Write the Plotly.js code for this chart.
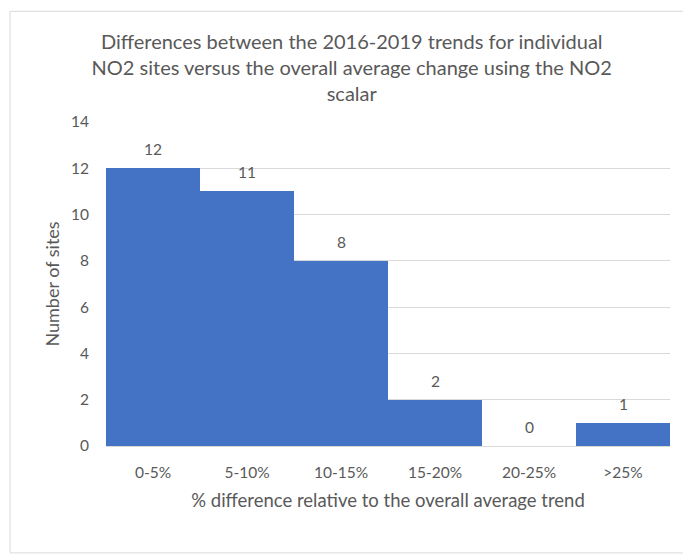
<!DOCTYPE html>
<html>
<head>
<meta charset="utf-8">
<script src="https://cdn.plot.ly/plotly-3.0.1.min.js"></script>
<style>html,body{margin:0;padding:0;background:#fff;}#chart{width:683px;height:557px;}</style>
</head>
<body>
<div id="chart"></div>
<script>
const categories = ["0-5%", "5-10%", "10-15%", "15-20%", "20-25%", ">25%"];
const siteCounts = [12, 11, 8, 2, 0, 1];
const yTickValues = [0, 2, 4, 6, 8, 10, 12, 14];

const textColor = "#595959";
const fontFamily = "Lato, 'Open Sans', sans-serif";

const trace = {
  type: "bar",
  x: categories,
  y: siteCounts,
  marker: {color: "#4472C4", line: {width: 0}},
  hoverinfo: "x+y"
};

const labelAnnotations = categories.map((c, i) => ({
  x: c, y: siteCounts[i], xref: "x", yref: "y",
  text: String(siteCounts[i]), showarrow: false,
  yanchor: "bottom", yshift: 8,
  font: {family: fontFamily, size: 15.5, color: textColor}
}));

const layout = {
  width: 683, height: 557,
  paper_bgcolor: "#ffffff", plot_bgcolor: "#ffffff",
  margin: {l: 106, r: 13, t: 122, b: 111},
  showlegend: false,
  bargap: 0,
  font: {family: fontFamily, color: textColor},
  title: {
    text: "Differences between the 2016-2019 trends for individual<br>NO2 sites versus the overall average change using the NO2<br>scalar",
    font: {family: fontFamily, size: 20, color: textColor},
    x: 0.515, xanchor: "center", xref: "container",
    y: 0.912, yanchor: "top", yref: "container"
  },
  xaxis: {
    type: "category",
    showgrid: false, zeroline: false, showline: false,
    ticks: "outside", ticklen: 12, tickcolor: "rgba(0,0,0,0)",
    tickfont: {family: fontFamily, size: 15.5, color: textColor},
    title: {text: "% difference relative to the overall average trend",
            font: {family: fontFamily, size: 18.5, color: textColor}, standoff: 14},
    fixedrange: true
  },
  yaxis: {
    range: [0, 14], tickvals: yTickValues,
    showgrid: true, gridcolor: "#d9d9d9", gridwidth: 1,
    zeroline: true, zerolinecolor: "#d9d9d9", zerolinewidth: 1,
    showline: false, ticks: "outside", ticklen: 13, tickcolor: "rgba(0,0,0,0)",
    tickfont: {family: fontFamily, size: 15.5, color: textColor},
    title: {text: "Number of sites", font: {family: fontFamily, size: 18, color: textColor}, standoff: 6},
    fixedrange: true
  },
  annotations: labelAnnotations,
  shapes: [{
    type: "rect", xref: "paper", yref: "paper",
    x0: -0.1702, x1: 1.04, y0: -0.33, y1: 1.3415,
    line: {color: "#d9d9d9", width: 1}, fillcolor: "rgba(0,0,0,0)", layer: "below"
  }]
};

Plotly.newPlot("chart", [trace], layout, {displayModeBar: false, staticPlot: true});
</script>
</body>
</html>
